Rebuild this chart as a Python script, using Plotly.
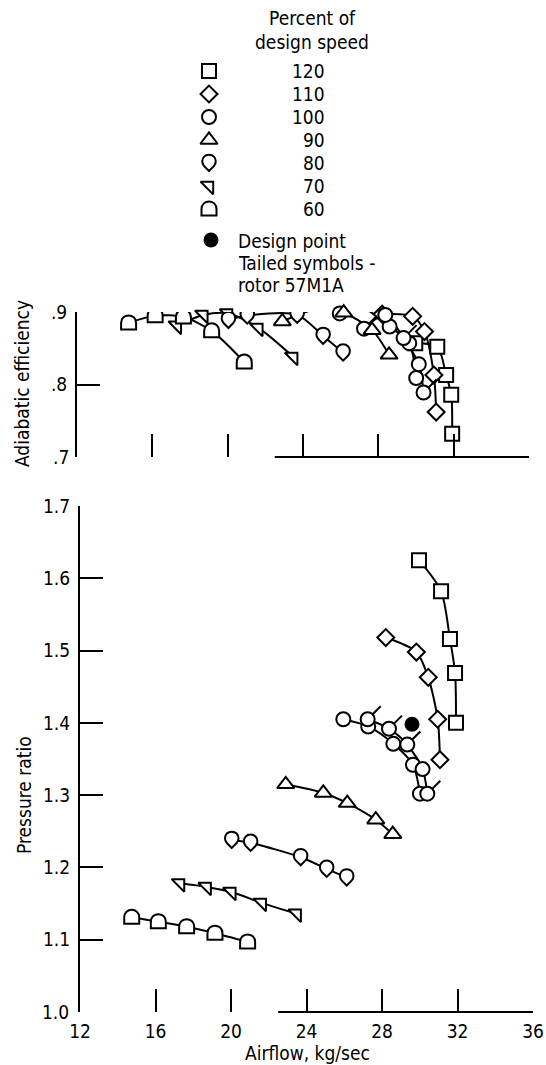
import plotly.graph_objects as go

# Compressor overall performance - percent of design speed
speeds = ["120", "110", "100", "90", "80", "70", "60"]

airflow_120 = [29.96, 31.13, 31.60, 31.87, 31.92]
pr_120 = [1.625, 1.582, 1.516, 1.469, 1.400]
eff_120 = [0.857, 0.852, 0.813, 0.786, 0.732]

airflow_110 = [28.20, 29.82, 30.45, 30.95, 31.07]
pr_110 = [1.518, 1.498, 1.463, 1.405, 1.349]
eff_110 = [0.897, 0.894, 0.873, 0.813, 0.762]

airflow_100 = [25.95, 27.27, 28.60, 29.64, 30.01]
pr_100 = [1.405, 1.395, 1.371, 1.342, 1.302]
eff_100 = [0.898, 0.904, 0.880, 0.857, 0.809]

# tailed symbols - rotor 57M1A
airflow_100t = [27.24, 28.37, 29.34, 30.15, 30.40]
pr_100t = [1.405, 1.392, 1.370, 1.336, 1.302]
eff_100t = [0.877, 0.896, 0.864, 0.828, 0.789]
tail_100t = [True, True, True, False, True]

airflow_90 = [22.90, 24.89, 26.16, 27.67, 28.57]
pr_90 = [1.315, 1.303, 1.289, 1.266, 1.246]
eff_90 = [0.887, 0.905, 0.899, 0.875, 0.841]

airflow_80 = [20.04, 21.04, 23.69, 25.07, 26.13]
pr_80 = [1.238, 1.234, 1.214, 1.198, 1.186]
eff_80 = [0.889, 0.895, 0.896, 0.867, 0.844]

airflow_70 = [17.30, 18.71, 20.02, 21.63, 23.48]
pr_70 = [1.178, 1.173, 1.166, 1.151, 1.136]
eff_70 = [0.881, 0.896, 0.898, 0.878, 0.838]

airflow_60 = [14.74, 16.15, 17.65, 19.15, 20.88]
pr_60 = [1.131, 1.125, 1.118, 1.109, 1.097]
eff_60 = [0.885, 0.895, 0.893, 0.874, 0.831]

design_airflow = [29.59]
design_pr = [1.398]

xtick_vals = [12, 16, 20, 24, 28, 32, 36]
pr_tick_vals = [1.1, 1.2, 1.3, 1.4, 1.5, 1.6, 1.7]
eff_tick_vals = [0.8, 0.9]
eff_tick_text = [".8", ".9"]

W, H = 546, 1065
FONT = "Liberation Sans Narrow, DejaVu Sans Condensed, Liberation Sans, Arial, sans-serif"

# glyphs plotly has no symbol for (pixel offsets, y up)
DEE_PATH = "M -7.5,-6.5 L -7.5,0 C -7.5,10 7.5,10 7.5,0 L 7.5,-6.5 Z"
DROP_PATH = ("M 0,-8 L -4.9,-3.1 C -7.4,-0.6 -7.4,3.9 -4.9,6.4 "
             "C -2.4,8.9 2.4,8.9 4.9,6.4 C 7.4,3.9 7.4,-0.6 4.9,-3.1 Z")
TAIL_PATH = "M 5,5 L 13,13"

# (airflow, pr, eff, symbol, size); size None -> custom glyph
series = [
    (airflow_120, pr_120, eff_120, "square", 14),
    (airflow_110, pr_110, eff_110, "diamond", 13),
    (airflow_100, pr_100, eff_100, "circle", 14),
    (airflow_100t, pr_100t, eff_100t, "circle", 14),
    (airflow_90, pr_90, eff_90, "triangle-up", 15),
    (airflow_80, pr_80, eff_80, DROP_PATH, None),
    (airflow_70, pr_70, eff_70, "triangle-ne", 14),
    (airflow_60, pr_60, eff_60, DEE_PATH, None),
]

fig = go.Figure()
line_style = dict(color="black", width=2, shape="spline", smoothing=0.8)

# curves first so the white-filled symbols sit on top of them
for x, pr, eff, sym, size in series:
    fig.add_trace(go.Scatter(x=x, y=pr, xaxis="x", yaxis="y", mode="lines",
                             line=line_style, cliponaxis=False, hoverinfo="skip"))
    fig.add_trace(go.Scatter(x=x, y=eff, xaxis="x2", yaxis="y2", mode="lines",
                             line=line_style, cliponaxis=False, hoverinfo="skip"))


def glyph(path, x, y, xref, yref, fill="white"):
    fig.add_shape(type="path", path=path, xref=xref, yref=yref,
                  xsizemode="pixel", ysizemode="pixel", xanchor=x, yanchor=y,
                  line=dict(color="black", width=2), fillcolor=fill, layer="above")


for x, pr, eff, sym, size in series:
    if size is None:
        for xi, pi, ei in zip(x, pr, eff):
            glyph(sym, xi, pi, "x", "y")
            glyph(sym, xi, ei, "x2", "y2")
        continue
    mk = dict(symbol=sym, size=size, color="white", line=dict(color="black", width=2))
    fig.add_trace(go.Scatter(x=x, y=pr, xaxis="x", yaxis="y", mode="markers",
                             marker=mk, cliponaxis=False))
    fig.add_trace(go.Scatter(x=x, y=eff, xaxis="x2", yaxis="y2", mode="markers",
                             marker=mk, cliponaxis=False))

for xi, pi, ei, t in zip(airflow_100t, pr_100t, eff_100t, tail_100t):
    if t:
        glyph(TAIL_PATH, xi, pi, "x", "y", fill="rgba(0,0,0,0)")
        glyph(TAIL_PATH, xi, ei, "x2", "y2", fill="rgba(0,0,0,0)")

fig.add_trace(go.Scatter(x=design_airflow, y=design_pr, xaxis="x", yaxis="y", mode="markers",
                         marker=dict(symbol="circle", size=15, color="black")))

# partial baselines (the printed axes are broken at low airflow)
for xref, yref in [("x", "y domain"), ("x2", "y2 domain")]:
    fig.add_shape(type="line", xref=xref, yref=yref, x0=22.5, x1=36, y0=0, y1=0,
                  line=dict(color="black", width=2))

# legend block, laid out in a full-figure pixel axis
legend_syms = ["square", "diamond", "circle", "triangle-up", DROP_PATH, "triangle-ne", DEE_PATH]
legend_sizes = [14, 13, 14, 15, None, 14, None]
row_y = [71 + 23 * i for i in range(len(speeds))]
for sym, size, ry, label in zip(legend_syms, legend_sizes, row_y, speeds):
    if size is None:
        glyph(sym, 209, ry, "x3", "y3")
    else:
        fig.add_trace(go.Scatter(x=[209], y=[ry], xaxis="x3", yaxis="y3", mode="markers",
                                 marker=dict(symbol=sym, size=size, color="white",
                                             line=dict(color="black", width=2))))
    fig.add_annotation(x=327, y=ry, xref="x3", yref="y3", text=label, showarrow=False,
                       xanchor="right", yanchor="middle", font=dict(size=19))
fig.add_trace(go.Scatter(x=[211], y=[240], xaxis="x3", yaxis="y3", mode="markers",
                         marker=dict(symbol="circle", size=15, color="black")))

texts = [
    (312, 18, "Percent of", "center"),
    (312, 42, "design speed", "center"),
    (236, 241, "Design point", "left"),
    (236, 263, "Tailed symbols -", "left"),
    (236, 285, "rotor 57M1A", "left"),
    (71, 457, ".7", "right"),
    (71, 1012, "1.0", "right"),
    (307, 1053, "Airflow, kg/sec", "center"),
]
for tx, ty, t, anchor in texts:
    fig.add_annotation(x=tx, y=ty, xref="x3", yref="y3", text=t, showarrow=False,
                       xanchor=anchor, yanchor="middle", font=dict(size=19))

fig.add_annotation(x=22, y=384, xref="x3", yref="y3", text="Adiabatic efficiency",
                   textangle=-90, showarrow=False, font=dict(size=19))
fig.add_annotation(x=24, y=795, xref="x3", yref="y3", text="Pressure ratio",
                   textangle=-90, showarrow=False, font=dict(size=19))

tick_common = dict(ticks="inside", ticklen=23, tickwidth=2, tickcolor="black",
                   showgrid=False, zeroline=False, automargin=False, fixedrange=True,
                   tickfont=dict(size=19))

fig.update_layout(
    width=W, height=H,
    margin=dict(l=0, r=0, t=0, b=0),
    paper_bgcolor="white", plot_bgcolor="rgba(0,0,0,0)",
    showlegend=False,
    font=dict(family=FONT, color="black"),
    xaxis=dict(domain=[80 / W, 533 / W], range=[12, 36], anchor="y", showline=False,
               tickvals=xtick_vals, ticklabelstandoff=6, **tick_common),
    yaxis=dict(domain=[(H - 1012) / H, (H - 506) / H], range=[1.0, 1.7], anchor="x",
               showline=True, linewidth=2, linecolor="black",
               tickvals=pr_tick_vals, ticktext=[f"{v:.1f}" for v in pr_tick_vals],
               ticklabelstandoff=4, **tick_common),
    xaxis2=dict(domain=[77 / W, 529 / W], range=[12, 36], anchor="y2", showline=False,
                tickvals=xtick_vals[1:], showticklabels=False, **tick_common),
    yaxis2=dict(domain=[(H - 457) / H, (H - 312) / H], range=[0.7, 0.9], anchor="x2",
                showline=True, linewidth=2, linecolor="black",
                tickvals=eff_tick_vals, ticktext=eff_tick_text,
                ticklabelstandoff=4, **tick_common),
    xaxis3=dict(domain=[0, 1], range=[0, W], anchor="y3", visible=False, fixedrange=True),
    yaxis3=dict(domain=[0, 1], range=[H, 0], anchor="x3", visible=False, fixedrange=True),
)

# the page's default body margin would push the figure 8px off the window
fig.write_html("out.html", config={"displayModeBar": False},
               post_script="document.body.style.margin = '0';")
